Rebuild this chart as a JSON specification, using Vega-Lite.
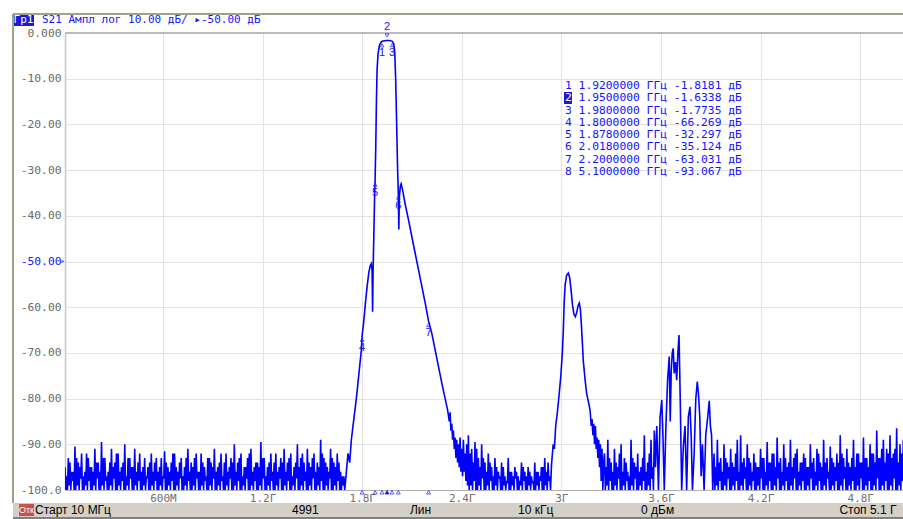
{
"$schema": "https://vega.github.io/schema/vega-lite/v6.json",
"width": 838, "height": 457,
"autosize": {"type": "none"},
"padding": {"left": 65, "top": 33, "right": 0, "bottom": 29},
"background": "white",
"config": {"view": {"stroke": null}},
"datasets": {
"trace": [
{"f":0.010,"v":-95},{"f":0.015,"v":-100},{"f":0.020,"v":-97},{"f":0.025,"v":-100},{"f":0.030,"v":-93},{"f":0.035,"v":-99},{"f":0.040,"v":-94},{"f":0.045,"v":-100},{"f":0.050,"v":-96},{"f":0.055,"v":-98},
{"f":0.060,"v":-96},{"f":0.065,"v":-100},{"f":0.070,"v":-90.5},{"f":0.075,"v":-100},{"f":0.080,"v":-93},{"f":0.085,"v":-99},{"f":0.090,"v":-94},{"f":0.095,"v":-100},{"f":0.100,"v":-95},{"f":0.105,"v":-97.5},
{"f":0.110,"v":-92},{"f":0.115,"v":-100},{"f":0.120,"v":-97},{"f":0.125,"v":-100},{"f":0.130,"v":-96},{"f":0.135,"v":-99},{"f":0.140,"v":-92},{"f":0.145,"v":-100},{"f":0.150,"v":-93},{"f":0.155,"v":-98},
{"f":0.160,"v":-95},{"f":0.165,"v":-100},{"f":0.170,"v":-95},{"f":0.175,"v":-100},{"f":0.180,"v":-96},{"f":0.185,"v":-99},{"f":0.190,"v":-91},{"f":0.195,"v":-100},{"f":0.200,"v":-94},{"f":0.205,"v":-97.5},
{"f":0.210,"v":-94},{"f":0.215,"v":-100},{"f":0.220,"v":-96},{"f":0.225,"v":-100},{"f":0.230,"v":-89.5},{"f":0.235,"v":-99},{"f":0.240,"v":-93},{"f":0.245,"v":-100},{"f":0.250,"v":-93},{"f":0.255,"v":-98},
{"f":0.260,"v":-97},{"f":0.265,"v":-100},{"f":0.270,"v":-96},{"f":0.275,"v":-100},{"f":0.280,"v":-94},{"f":0.285,"v":-99},{"f":0.290,"v":-91},{"f":0.295,"v":-100},{"f":0.300,"v":-95},{"f":0.305,"v":-97.5},
{"f":0.310,"v":-94},{"f":0.315,"v":-100},{"f":0.320,"v":-92},{"f":0.325,"v":-100},{"f":0.330,"v":-92},{"f":0.335,"v":-99},{"f":0.340,"v":-96},{"f":0.345,"v":-100},{"f":0.350,"v":-95},{"f":0.355,"v":-98},
{"f":0.360,"v":-94},{"f":0.365,"v":-100},{"f":0.370,"v":-90},{"f":0.375,"v":-100},{"f":0.380,"v":-97},{"f":0.385,"v":-99},{"f":0.390,"v":-93},{"f":0.395,"v":-100},{"f":0.400,"v":-93},{"f":0.405,"v":-97.5},
{"f":0.410,"v":-95},{"f":0.415,"v":-100},{"f":0.420,"v":-95},{"f":0.425,"v":-100},{"f":0.430,"v":-91},{"f":0.435,"v":-99},{"f":0.440,"v":-96},{"f":0.445,"v":-100},{"f":0.450,"v":-94},{"f":0.455,"v":-98},
{"f":0.460,"v":-92},{"f":0.465,"v":-100},{"f":0.470,"v":-96},{"f":0.475,"v":-100},{"f":0.480,"v":-95},{"f":0.485,"v":-99},{"f":0.490,"v":-93},{"f":0.495,"v":-100},{"f":0.500,"v":-97},{"f":0.505,"v":-97.5},
{"f":0.510,"v":-95},{"f":0.515,"v":-100},{"f":0.520,"v":-94},{"f":0.525,"v":-100},{"f":0.530,"v":-92},{"f":0.535,"v":-99},{"f":0.540,"v":-96},{"f":0.545,"v":-100},{"f":0.550,"v":-94},{"f":0.555,"v":-98},
{"f":0.560,"v":-93},{"f":0.565,"v":-100},{"f":0.570,"v":-96},{"f":0.575,"v":-100},{"f":0.580,"v":-95},{"f":0.585,"v":-99},{"f":0.590,"v":-93},{"f":0.595,"v":-100},{"f":0.600,"v":-97},{"f":0.605,"v":-97.5},
{"f":0.610,"v":-91.5},{"f":0.615,"v":-100},{"f":0.620,"v":-94},{"f":0.625,"v":-100},{"f":0.630,"v":-95},{"f":0.635,"v":-99},{"f":0.640,"v":-96},{"f":0.645,"v":-100},{"f":0.650,"v":-94},{"f":0.655,"v":-98},
{"f":0.660,"v":-92},{"f":0.665,"v":-100},{"f":0.670,"v":-92},{"f":0.675,"v":-100},{"f":0.680,"v":-95},{"f":0.685,"v":-99},{"f":0.690,"v":-96},{"f":0.695,"v":-100},{"f":0.700,"v":-94},{"f":0.705,"v":-97.5},
{"f":0.710,"v":-93},{"f":0.715,"v":-100},{"f":0.720,"v":-97},{"f":0.725,"v":-100},{"f":0.730,"v":-95},{"f":0.735,"v":-99},{"f":0.740,"v":-93},{"f":0.745,"v":-100},{"f":0.750,"v":-91},{"f":0.755,"v":-98},
{"f":0.760,"v":-96},{"f":0.765,"v":-100},{"f":0.770,"v":-94},{"f":0.775,"v":-100},{"f":0.780,"v":-95},{"f":0.785,"v":-99},{"f":0.790,"v":-93},{"f":0.795,"v":-100},{"f":0.800,"v":-92},{"f":0.805,"v":-97.5},
{"f":0.810,"v":-96},{"f":0.815,"v":-100},{"f":0.820,"v":-96},{"f":0.825,"v":-100},{"f":0.830,"v":-92},{"f":0.835,"v":-99},{"f":0.840,"v":-94},{"f":0.845,"v":-100},{"f":0.850,"v":-95},{"f":0.855,"v":-98},
{"f":0.860,"v":-97},{"f":0.865,"v":-100},{"f":0.870,"v":-93},{"f":0.875,"v":-100},{"f":0.880,"v":-93},{"f":0.885,"v":-99},{"f":0.890,"v":-94},{"f":0.895,"v":-100},{"f":0.900,"v":-95},{"f":0.905,"v":-97.5},
{"f":0.910,"v":-91},{"f":0.915,"v":-100},{"f":0.920,"v":-96},{"f":0.925,"v":-100},{"f":0.930,"v":-95},{"f":0.935,"v":-99},{"f":0.940,"v":-94},{"f":0.945,"v":-100},{"f":0.950,"v":-92},{"f":0.955,"v":-98},
{"f":0.960,"v":-97},{"f":0.965,"v":-100},{"f":0.970,"v":-94},{"f":0.975,"v":-100},{"f":0.980,"v":-92},{"f":0.985,"v":-99},{"f":0.990,"v":-96},{"f":0.995,"v":-100},{"f":1.000,"v":-95},{"f":1.005,"v":-97.5},
{"f":1.010,"v":-93},{"f":1.015,"v":-100},{"f":1.020,"v":-94},{"f":1.025,"v":-100},{"f":1.030,"v":-90},{"f":1.035,"v":-99},{"f":1.040,"v":-96},{"f":1.045,"v":-100},{"f":1.050,"v":-94},{"f":1.055,"v":-98},
{"f":1.060,"v":-93},{"f":1.065,"v":-100},{"f":1.070,"v":-92},{"f":1.075,"v":-100},{"f":1.080,"v":-97},{"f":1.085,"v":-99},{"f":1.090,"v":-95},{"f":1.095,"v":-100},{"f":1.100,"v":-95},{"f":1.105,"v":-97.5},
{"f":1.110,"v":-93},{"f":1.115,"v":-100},{"f":1.120,"v":-92},{"f":1.125,"v":-100},{"f":1.130,"v":-91},{"f":1.135,"v":-99},{"f":1.140,"v":-96},{"f":1.145,"v":-100},{"f":1.150,"v":-95},{"f":1.155,"v":-98},
{"f":1.160,"v":-94},{"f":1.165,"v":-100},{"f":1.170,"v":-94},{"f":1.175,"v":-100},{"f":1.180,"v":-95},{"f":1.185,"v":-99},{"f":1.190,"v":-89.5},{"f":1.195,"v":-100},{"f":1.200,"v":-93},{"f":1.205,"v":-97.5},
{"f":1.210,"v":-93},{"f":1.215,"v":-100},{"f":1.220,"v":-97},{"f":1.225,"v":-100},{"f":1.230,"v":-95},{"f":1.235,"v":-99},{"f":1.240,"v":-94},{"f":1.245,"v":-100},{"f":1.250,"v":-92},{"f":1.255,"v":-98},
{"f":1.260,"v":-96},{"f":1.265,"v":-100},{"f":1.270,"v":-94},{"f":1.275,"v":-100},{"f":1.280,"v":-92},{"f":1.285,"v":-99},{"f":1.290,"v":-96},{"f":1.295,"v":-100},{"f":1.300,"v":-95},{"f":1.305,"v":-97.5},
{"f":1.310,"v":-93},{"f":1.315,"v":-100},{"f":1.320,"v":-94},{"f":1.325,"v":-100},{"f":1.330,"v":-91},{"f":1.335,"v":-99},{"f":1.340,"v":-96},{"f":1.345,"v":-100},{"f":1.350,"v":-94},{"f":1.355,"v":-98},
{"f":1.360,"v":-93},{"f":1.365,"v":-100},{"f":1.370,"v":-92},{"f":1.375,"v":-100},{"f":1.380,"v":-97},{"f":1.385,"v":-99},{"f":1.390,"v":-95},{"f":1.395,"v":-100},{"f":1.400,"v":-94},{"f":1.405,"v":-97.5},
{"f":1.410,"v":-90},{"f":1.415,"v":-100},{"f":1.420,"v":-95},{"f":1.425,"v":-100},{"f":1.430,"v":-93},{"f":1.435,"v":-99},{"f":1.440,"v":-92},{"f":1.445,"v":-100},{"f":1.450,"v":-94},{"f":1.455,"v":-98},
{"f":1.460,"v":-96},{"f":1.465,"v":-100},{"f":1.470,"v":-91},{"f":1.475,"v":-100},{"f":1.480,"v":-94},{"f":1.485,"v":-99},{"f":1.490,"v":-95},{"f":1.495,"v":-100},{"f":1.500,"v":-93},{"f":1.505,"v":-97.5},
{"f":1.510,"v":-92},{"f":1.515,"v":-100},{"f":1.520,"v":-96},{"f":1.525,"v":-100},{"f":1.530,"v":-94},{"f":1.535,"v":-99},{"f":1.540,"v":-95},{"f":1.545,"v":-100},{"f":1.550,"v":-89},{"f":1.555,"v":-98},
{"f":1.560,"v":-92},{"f":1.565,"v":-100},{"f":1.570,"v":-93},{"f":1.575,"v":-100},{"f":1.580,"v":-94},{"f":1.585,"v":-99},{"f":1.590,"v":-95},{"f":1.595,"v":-100},{"f":1.600,"v":-96},{"f":1.605,"v":-97.5},
{"f":1.610,"v":-91},{"f":1.615,"v":-100},{"f":1.620,"v":-93},{"f":1.625,"v":-100},{"f":1.630,"v":-94},{"f":1.635,"v":-99},{"f":1.640,"v":-95},{"f":1.645,"v":-100},{"f":1.650,"v":-92},{"f":1.655,"v":-98},
{"f":1.660,"v":-94},{"f":1.665,"v":-100},{"f":1.670,"v":-96},{"f":1.675,"v":-100},{"f":1.680,"v":-97},{"f":1.685,"v":-99},{"f":1.690,"v":-97},{"f":1.695,"v":-100},{"f":1.700,"v":-98},
{"f":1.705,"v":-96},{"f":1.715,"v":-92},{"f":1.725,"v":-94},{"f":1.735,"v":-89},{"f":1.745,"v":-86},{"f":1.755,"v":-83},{"f":1.765,"v":-80},{"f":1.775,"v":-76.5},{"f":1.785,"v":-73},{"f":1.795,"v":-69.5},
{"f":1.800,"v":-66.3},{"f":1.810,"v":-63},{"f":1.820,"v":-59},{"f":1.830,"v":-55.5},{"f":1.840,"v":-52.5},{"f":1.848,"v":-51},{"f":1.855,"v":-50.5},{"f":1.860,"v":-52},{"f":1.863,"v":-61},{"f":1.866,"v":-52},
{"f":1.870,"v":-45},{"f":1.875,"v":-36},{"f":1.878,"v":-32.3},{"f":1.882,"v":-25},{"f":1.886,"v":-15},{"f":1.890,"v":-8},{"f":1.896,"v":-4.5},{"f":1.904,"v":-2.8},{"f":1.912,"v":-2.1},{"f":1.920,"v":-1.82},
{"f":1.935,"v":-1.7},{"f":1.950,"v":-1.63},{"f":1.965,"v":-1.65},{"f":1.980,"v":-1.77},{"f":1.990,"v":-2.3},{"f":1.996,"v":-4},{"f":2.002,"v":-10},{"f":2.008,"v":-20},{"f":2.013,"v":-29},{"f":2.018,"v":-35.1},
{"f":2.021,"v":-43},{"f":2.024,"v":-36},{"f":2.030,"v":-33.5},{"f":2.035,"v":-33},{"f":2.045,"v":-34.6},{"f":2.060,"v":-37.6},{"f":2.080,"v":-41.0},{"f":2.100,"v":-44.7},{"f":2.120,"v":-48.3},{"f":2.140,"v":-51.9},
{"f":2.160,"v":-55.5},{"f":2.180,"v":-59.1},{"f":2.200,"v":-63.0},{"f":2.220,"v":-65.8},{"f":2.240,"v":-69.4},{"f":2.260,"v":-73},{"f":2.280,"v":-76.6},{"f":2.300,"v":-80},{"f":2.315,"v":-82.5},{"f":2.325,"v":-85},
{"f":2.330,"v":-83},{"f":2.335,"v":-87},{"f":2.340,"v":-85.5},{"f":2.345,"v":-89},{"f":2.350,"v":-87},{"f":2.355,"v":-91},{"f":2.360,"v":-88.5},{"f":2.365,"v":-93},{"f":2.370,"v":-89},{"f":2.375,"v":-94},
{"f":2.380,"v":-90},{"f":2.385,"v":-95},{"f":2.390,"v":-88.5},{"f":2.395,"v":-96},{"f":2.400,"v":-91},{"f":2.405,"v":-97},{"f":2.410,"v":-89},{"f":2.415,"v":-96},{"f":2.420,"v":-92},{"f":2.425,"v":-98},
{"f":2.430,"v":-90},{"f":2.435,"v":-99},
{"f":2.440,"v":-88},{"f":2.445,"v":-100},{"f":2.450,"v":-92},{"f":2.455,"v":-99},{"f":2.460,"v":-91},{"f":2.465,"v":-100},{"f":2.470,"v":-94},{"f":2.475,"v":-98},{"f":2.480,"v":-89.5},{"f":2.485,"v":-100},
{"f":2.490,"v":-91},{"f":2.495,"v":-100},{"f":2.500,"v":-93},{"f":2.505,"v":-99},{"f":2.510,"v":-95},{"f":2.515,"v":-100},{"f":2.520,"v":-90},{"f":2.525,"v":-97.5},{"f":2.530,"v":-93},{"f":2.535,"v":-100},
{"f":2.540,"v":-94},{"f":2.545,"v":-100},{"f":2.550,"v":-96},{"f":2.555,"v":-99},{"f":2.560,"v":-92},{"f":2.565,"v":-100},{"f":2.570,"v":-94},{"f":2.575,"v":-98},{"f":2.580,"v":-95},{"f":2.585,"v":-100},
{"f":2.590,"v":-97},{"f":2.595,"v":-100},{"f":2.600,"v":-93},{"f":2.605,"v":-99},{"f":2.610,"v":-95},{"f":2.615,"v":-100},{"f":2.620,"v":-96},{"f":2.625,"v":-97.5},{"f":2.630,"v":-97},{"f":2.635,"v":-100},
{"f":2.640,"v":-94},{"f":2.645,"v":-100},{"f":2.650,"v":-95},{"f":2.655,"v":-99},{"f":2.660,"v":-97},{"f":2.665,"v":-100},{"f":2.670,"v":-98},{"f":2.675,"v":-98.5},{"f":2.680,"v":-93},{"f":2.685,"v":-100},
{"f":2.690,"v":-96},{"f":2.695,"v":-100},{"f":2.700,"v":-96},{"f":2.705,"v":-99},{"f":2.710,"v":-97},{"f":2.715,"v":-100},{"f":2.720,"v":-95},{"f":2.725,"v":-97.5},{"f":2.730,"v":-96},{"f":2.735,"v":-100},
{"f":2.740,"v":-97},{"f":2.745,"v":-100},{"f":2.750,"v":-98},{"f":2.755,"v":-99},{"f":2.760,"v":-94},{"f":2.765,"v":-100},{"f":2.770,"v":-95},{"f":2.775,"v":-98},{"f":2.780,"v":-96},{"f":2.785,"v":-100},
{"f":2.790,"v":-97},{"f":2.795,"v":-100},{"f":2.800,"v":-95},{"f":2.805,"v":-99},{"f":2.810,"v":-96},{"f":2.815,"v":-100},{"f":2.820,"v":-97},{"f":2.825,"v":-98.5},{"f":2.830,"v":-98},{"f":2.835,"v":-100},
{"f":2.840,"v":-94},{"f":2.845,"v":-100},{"f":2.850,"v":-96},{"f":2.855,"v":-99},{"f":2.860,"v":-96},{"f":2.865,"v":-100},{"f":2.870,"v":-97},{"f":2.875,"v":-98},{"f":2.880,"v":-95},{"f":2.885,"v":-100},
{"f":2.890,"v":-95},{"f":2.895,"v":-100},{"f":2.900,"v":-93},{"f":2.905,"v":-99},{"f":2.910,"v":-96},{"f":2.915,"v":-100},{"f":2.920,"v":-94},{"f":2.925,"v":-98},{"f":2.930,"v":-97},{"f":2.935,"v":-100},
{"f":2.940,"v":-95},{"f":2.944,"v":-93},{"f":2.951,"v":-90},{"f":2.958,"v":-91},{"f":2.966,"v":-86},{"f":2.976,"v":-83},{"f":2.987,"v":-79},{"f":2.997,"v":-75},{"f":3.006,"v":-70},{"f":3.012,"v":-65},
{"f":3.017,"v":-59},{"f":3.023,"v":-55},{"f":3.032,"v":-53},{"f":3.042,"v":-52.5},{"f":3.050,"v":-53.5},{"f":3.058,"v":-56},{"f":3.067,"v":-59.5},{"f":3.076,"v":-61.5},{"f":3.084,"v":-62.1},{"f":3.092,"v":-61.3},
{"f":3.100,"v":-59.8},{"f":3.108,"v":-59.1},{"f":3.115,"v":-60.5},{"f":3.121,"v":-64},{"f":3.127,"v":-68},{"f":3.132,"v":-71.6},{"f":3.142,"v":-75.5},{"f":3.152,"v":-78.8},{"f":3.162,"v":-80.5},{"f":3.173,"v":-82.5},
{"f":3.180,"v":-86},{"f":3.185,"v":-84.5},{"f":3.190,"v":-88},{"f":3.195,"v":-85.5},{"f":3.200,"v":-90},{"f":3.205,"v":-86},{"f":3.210,"v":-91},{"f":3.215,"v":-88.5},{"f":3.220,"v":-93},{"f":3.225,"v":-89},
{"f":3.230,"v":-95},{"f":3.235,"v":-90},{"f":3.240,"v":-98},{"f":3.245,"v":-91},{"f":3.250,"v":-100},{"f":3.255,"v":-94},
{"f":3.260,"v":-92},{"f":3.265,"v":-100},{"f":3.270,"v":-95},{"f":3.275,"v":-99},{"f":3.280,"v":-89},{"f":3.285,"v":-100},{"f":3.290,"v":-93},{"f":3.295,"v":-98},{"f":3.300,"v":-94},{"f":3.305,"v":-100},
{"f":3.310,"v":-96},{"f":3.315,"v":-100},{"f":3.320,"v":-91},{"f":3.325,"v":-99},{"f":3.330,"v":-94},{"f":3.335,"v":-100},{"f":3.340,"v":-95},{"f":3.345,"v":-97.5},{"f":3.350,"v":-92},{"f":3.355,"v":-100},
{"f":3.360,"v":-90},{"f":3.365,"v":-100},{"f":3.370,"v":-96},{"f":3.375,"v":-99},{"f":3.380,"v":-93},{"f":3.385,"v":-100},{"f":3.390,"v":-94},{"f":3.395,"v":-98},{"f":3.400,"v":-96},{"f":3.405,"v":-100},
{"f":3.410,"v":-97},{"f":3.415,"v":-100},{"f":3.420,"v":-89},{"f":3.425,"v":-99},{"f":3.430,"v":-93},{"f":3.435,"v":-100},{"f":3.440,"v":-94},{"f":3.445,"v":-97.5},{"f":3.450,"v":-95},{"f":3.455,"v":-100},
{"f":3.460,"v":-92},{"f":3.465,"v":-100},{"f":3.470,"v":-96},{"f":3.475,"v":-99},{"f":3.480,"v":-95},{"f":3.485,"v":-100},{"f":3.490,"v":-93},{"f":3.495,"v":-98},{"f":3.500,"v":-88},{"f":3.505,"v":-100},
{"f":3.510,"v":-96},{"f":3.515,"v":-100},{"f":3.520,"v":-94},{"f":3.525,"v":-99},{"f":3.530,"v":-92},{"f":3.535,"v":-100},{"f":3.540,"v":-89},{"f":3.545,"v":-97.5},{"f":3.550,"v":-95},{"f":3.555,"v":-100},
{"f":3.560,"v":-87},{"f":3.567,"v":-95},{"f":3.575,"v":-86},{"f":3.585,"v":-100},{"f":3.595,"v":-84},{"f":3.605,"v":-80.3},{"f":3.612,"v":-88},{"f":3.620,"v":-100},{"f":3.630,"v":-86},{"f":3.640,"v":-76},
{"f":3.650,"v":-70.8},{"f":3.656,"v":-85},{"f":3.662,"v":-74},{"f":3.668,"v":-70},{"f":3.674,"v":-69},{"f":3.680,"v":-74.5},{"f":3.688,"v":-72},{"f":3.695,"v":-76},{"f":3.702,"v":-70},{"f":3.709,"v":-66.1},
{"f":3.716,"v":-79.6},{"f":3.725,"v":-100},{"f":3.735,"v":-90.5},{"f":3.745,"v":-86},{"f":3.755,"v":-100},{"f":3.765,"v":-84},{"f":3.775,"v":-81.8},{"f":3.782,"v":-88},{"f":3.790,"v":-100},{"f":3.800,"v":-92},
{"f":3.810,"v":-80},{"f":3.819,"v":-76.3},{"f":3.826,"v":-79},{"f":3.834,"v":-84},{"f":3.842,"v":-97},{"f":3.850,"v":-90},{"f":3.860,"v":-100},{"f":3.870,"v":-88},{"f":3.882,"v":-84},{"f":3.891,"v":-80.5},
{"f":3.898,"v":-86},{"f":3.905,"v":-88},{"f":3.912,"v":-100},
{"f":3.920,"v":-92},{"f":3.925,"v":-100},{"f":3.930,"v":-95},{"f":3.935,"v":-99},{"f":3.940,"v":-89},{"f":3.945,"v":-100},{"f":3.950,"v":-94},{"f":3.955,"v":-98},{"f":3.960,"v":-93},{"f":3.965,"v":-100},
{"f":3.970,"v":-96},{"f":3.975,"v":-100},{"f":3.980,"v":-90},{"f":3.985,"v":-99},{"f":3.990,"v":-93},{"f":3.995,"v":-100},{"f":4.000,"v":-94},{"f":4.005,"v":-97.5},{"f":4.010,"v":-95},{"f":4.015,"v":-100},
{"f":4.020,"v":-91},{"f":4.025,"v":-100},{"f":4.030,"v":-94},{"f":4.035,"v":-99},{"f":4.040,"v":-95},{"f":4.045,"v":-100},{"f":4.050,"v":-92},{"f":4.055,"v":-98},{"f":4.060,"v":-89},{"f":4.065,"v":-100},
{"f":4.070,"v":-96},{"f":4.075,"v":-100},{"f":4.080,"v":-88},{"f":4.085,"v":-99},{"f":4.090,"v":-94},{"f":4.095,"v":-100},{"f":4.100,"v":-93},{"f":4.105,"v":-97.5},{"f":4.110,"v":-95},{"f":4.115,"v":-100},
{"f":4.120,"v":-90},{"f":4.125,"v":-100},{"f":4.130,"v":-93},{"f":4.135,"v":-99},{"f":4.140,"v":-94},{"f":4.145,"v":-100},{"f":4.150,"v":-96},{"f":4.155,"v":-98},{"f":4.160,"v":-92},{"f":4.165,"v":-100},
{"f":4.170,"v":-94},{"f":4.175,"v":-100},{"f":4.180,"v":-95},{"f":4.185,"v":-99},{"f":4.190,"v":-95},{"f":4.195,"v":-100},{"f":4.200,"v":-91},{"f":4.205,"v":-97.5},{"f":4.210,"v":-93},{"f":4.215,"v":-100},
{"f":4.220,"v":-93},{"f":4.225,"v":-100},{"f":4.230,"v":-96},{"f":4.235,"v":-99},{"f":4.240,"v":-89.5},{"f":4.245,"v":-100},{"f":4.250,"v":-94},{"f":4.255,"v":-98},{"f":4.260,"v":-94},{"f":4.265,"v":-100},
{"f":4.270,"v":-92},{"f":4.275,"v":-100},{"f":4.280,"v":-92},{"f":4.285,"v":-99},{"f":4.290,"v":-95},{"f":4.295,"v":-100},{"f":4.300,"v":-88.5},{"f":4.305,"v":-97.5},{"f":4.310,"v":-94},{"f":4.315,"v":-100},
{"f":4.320,"v":-93},{"f":4.325,"v":-100},{"f":4.330,"v":-96},{"f":4.335,"v":-99},{"f":4.340,"v":-90},{"f":4.345,"v":-100},{"f":4.350,"v":-93},{"f":4.355,"v":-98},{"f":4.360,"v":-95},{"f":4.365,"v":-100},
{"f":4.370,"v":-94},{"f":4.375,"v":-100},{"f":4.380,"v":-89},{"f":4.385,"v":-99},{"f":4.390,"v":-95},{"f":4.395,"v":-100},{"f":4.400,"v":-93},{"f":4.405,"v":-97.5},{"f":4.410,"v":-92},{"f":4.415,"v":-100},
{"f":4.420,"v":-91},{"f":4.425,"v":-100},{"f":4.430,"v":-96},{"f":4.435,"v":-99},{"f":4.440,"v":-94},{"f":4.445,"v":-100},{"f":4.450,"v":-94},{"f":4.455,"v":-98},{"f":4.460,"v":-92},{"f":4.465,"v":-100},
{"f":4.470,"v":-93},{"f":4.475,"v":-100},{"f":4.480,"v":-95},{"f":4.485,"v":-99},{"f":4.490,"v":-95},{"f":4.495,"v":-100},{"f":4.500,"v":-90},{"f":4.505,"v":-97.5},{"f":4.510,"v":-94},{"f":4.515,"v":-100},
{"f":4.520,"v":-93},{"f":4.525,"v":-100},{"f":4.530,"v":-96},{"f":4.535,"v":-99},{"f":4.540,"v":-91},{"f":4.545,"v":-100},{"f":4.550,"v":-92},{"f":4.555,"v":-98},{"f":4.560,"v":-94},{"f":4.565,"v":-100},
{"f":4.570,"v":-95},{"f":4.575,"v":-100},{"f":4.580,"v":-89},{"f":4.585,"v":-99},{"f":4.590,"v":-94},{"f":4.595,"v":-100},{"f":4.600,"v":-93},{"f":4.605,"v":-97.5},{"f":4.610,"v":-96},{"f":4.615,"v":-100},
{"f":4.620,"v":-90.5},{"f":4.625,"v":-100},{"f":4.630,"v":-93},{"f":4.635,"v":-99},{"f":4.640,"v":-94},{"f":4.645,"v":-100},{"f":4.650,"v":-95},{"f":4.655,"v":-98},{"f":4.660,"v":-92},{"f":4.665,"v":-100},
{"f":4.670,"v":-94},{"f":4.675,"v":-100},{"f":4.680,"v":-88},{"f":4.685,"v":-99},{"f":4.690,"v":-92},{"f":4.695,"v":-100},{"f":4.700,"v":-93},{"f":4.705,"v":-97.5},{"f":4.710,"v":-95},{"f":4.715,"v":-100},
{"f":4.720,"v":-91},{"f":4.725,"v":-100},{"f":4.730,"v":-94},{"f":4.735,"v":-99},{"f":4.740,"v":-95},{"f":4.745,"v":-100},{"f":4.750,"v":-93},{"f":4.755,"v":-98},{"f":4.760,"v":-89},{"f":4.765,"v":-100},
{"f":4.770,"v":-95},{"f":4.775,"v":-100},{"f":4.780,"v":-92},{"f":4.785,"v":-99},{"f":4.790,"v":-92},{"f":4.795,"v":-100},{"f":4.800,"v":-94},{"f":4.805,"v":-97.5},{"f":4.810,"v":-94},{"f":4.815,"v":-100},
{"f":4.820,"v":-88.5},{"f":4.825,"v":-100},{"f":4.830,"v":-93},{"f":4.835,"v":-99},{"f":4.840,"v":-93},{"f":4.845,"v":-100},{"f":4.850,"v":-95},{"f":4.855,"v":-98},{"f":4.860,"v":-90},{"f":4.865,"v":-100},
{"f":4.870,"v":-92},{"f":4.875,"v":-100},{"f":4.880,"v":-92},{"f":4.885,"v":-99},{"f":4.890,"v":-94},{"f":4.895,"v":-100},{"f":4.900,"v":-87},{"f":4.905,"v":-97.5},{"f":4.910,"v":-93},{"f":4.915,"v":-100},
{"f":4.920,"v":-93},{"f":4.925,"v":-100},{"f":4.930,"v":-91},{"f":4.935,"v":-99},{"f":4.940,"v":-89},{"f":4.945,"v":-100},{"f":4.950,"v":-94},{"f":4.955,"v":-98},{"f":4.960,"v":-91},{"f":4.965,"v":-100},
{"f":4.970,"v":-92},{"f":4.975,"v":-100},{"f":4.980,"v":-88},{"f":4.985,"v":-99},{"f":4.990,"v":-93},{"f":4.995,"v":-100},{"f":5.000,"v":-92},{"f":5.005,"v":-97.5},{"f":5.010,"v":-91},{"f":5.015,"v":-100},
{"f":5.020,"v":-86.5},{"f":5.025,"v":-100},{"f":5.030,"v":-94},{"f":5.035,"v":-99},{"f":5.040,"v":-90},{"f":5.045,"v":-100},{"f":5.050,"v":-92},{"f":5.055,"v":-98},{"f":5.060,"v":-89},{"f":5.065,"v":-100},{"f":5.070,"v":-93}
],
"markers": [
{"m":"1","f":1.92,"v":-1.8181},{"m":"2","f":1.95,"v":-1.6338},{"m":"3","f":1.98,"v":-1.7735},{"m":"4","f":1.8,"v":-66.269},
{"m":"5","f":1.878,"v":-32.297},{"m":"6","f":2.018,"v":-35.124},{"m":"7","f":2.2,"v":-63.031}
],
"table": [
{"t":"1 1.9200000 ГГц -1.8181 дБ","f":3.0221,"v":-11.60},
{"t":"1.9500000 ГГц -1.6338 дБ","f":3.1040,"v":-14.29},
{"t":"3 1.9800000 ГГц -1.7735 дБ","f":3.0221,"v":-16.98},
{"t":"4 1.8000000 ГГц -66.269 дБ","f":3.0221,"v":-19.67},
{"t":"5 1.8780000 ГГц -32.297 дБ","f":3.0221,"v":-22.36},
{"t":"6 2.0180000 ГГц -35.124 дБ","f":3.0221,"v":-25.05},
{"t":"7 2.2000000 ГГц -63.031 дБ","f":3.0221,"v":-27.75},
{"t":"8 5.1000000 ГГц -93.067 дБ","f":3.0221,"v":-30.44}
],
"status": [
{"t":"Старт 10 МГц","f":-0.1707,"v":-104.38},
{"t":"4991","f":1.3775,"v":-104.38},
{"t":"Лин","f":2.0883,"v":-104.38},
{"t":"10 кГц","f":2.7389,"v":-104.38},
{"t":"0 дБм","f":3.4799,"v":-104.38},
{"t":"Стоп 5.1 Г","f":4.6750,"v":-104.38}
]
},
"layer": [
{
"data": {"values": [{}]},
"mark": {"type": "rect", "color": "#d4d0c8"},
"encoding": {"x": {"datum": -0.3033}, "x2": {"datum": 5.0582}, "y": {"datum": -102.84}, "y2": {"datum": -105.91}}
},
{
"data": {"name": "trace"},
"mark": {"type": "line", "color": "#0000ff", "strokeWidth": 1.6, "clip": true},
"encoding": {
"x": {"field": "f", "type": "quantitative",
"scale": {"domain": [0.01, 5.0582], "nice": false, "zero": false},
"axis": {"title": null, "values": [0.6, 1.2, 1.8, 2.4, 3, 3.6, 4.2, 4.8],
"labelExpr": "datum.value == 0.6 ? '600М' : datum.value + 'Г'",
"grid": true, "gridColor": "#e2e2e2", "gridWidth": 1, "ticks": false, "tickSize": 0,
"labelPadding": 2, "labelFont": "DejaVu Sans Mono", "labelFontSize": 11, "labelColor": "#707070",
"labelOverlap": false, "domain": true, "domainColor": "#b0b0b0", "domainWidth": 1}},
"y": {"field": "v", "type": "quantitative",
"scale": {"domain": [-100, 0], "nice": false, "zero": false},
"axis": {"title": null, "values": [0, -10, -20, -30, -40, -50, -60, -70, -80, -90, -100],
"labelExpr": "datum.value == 0 ? '0.000' : (datum.value == -100 ? '-100.0' : '-' + format(-datum.value, '.2f'))",
"grid": true, "gridColor": "#e2e2e2", "gridWidth": 1, "ticks": false, "tickSize": 0,
"labelPadding": 4, "labelFont": "DejaVu Sans Mono", "labelFontSize": 11.3,
"labelColor": {"condition": {"test": "datum.value == -50", "value": "#1414ff"}, "value": "#6b6b6b"},
"labelOverlap": false, "labelFlush": false, "domain": true, "domainColor": "#c8c8c8", "domainWidth": 1.5}}
}
},
{
"data": {"values": [{}]},
"mark": {"type": "rule", "color": "#a8a8a8", "strokeWidth": 1.5},
"encoding": {"y": {"datum": 0}}
},
{
"data": {"name": "markers"},
"transform": [{"filter": "datum.m != '2'"}],
"mark": {"type": "point", "shape": "triangle-up", "filled": false, "color": "#1414ff", "size": 14, "strokeWidth": 1, "yOffset": 4},
"encoding": {"x": {"field": "f", "type": "quantitative"}, "y": {"field": "v", "type": "quantitative"}}
},
{
"data": {"name": "markers"},
"transform": [{"filter": "datum.m != '2'"}],
"mark": {"type": "text", "color": "#1414ff", "font": "Liberation Sans", "fontSize": 11, "yOffset": 12, "baseline": "middle"},
"encoding": {"x": {"field": "f", "type": "quantitative"}, "y": {"field": "v", "type": "quantitative"}, "text": {"field": "m"}}
},
{
"data": {"name": "markers"},
"transform": [{"filter": "datum.m == '2'"}],
"mark": {"type": "point", "shape": "triangle-down", "filled": false, "color": "#1414ff", "size": 14, "strokeWidth": 1, "yOffset": -5},
"encoding": {"x": {"field": "f", "type": "quantitative"}, "y": {"field": "v", "type": "quantitative"}}
},
{
"data": {"name": "markers"},
"transform": [{"filter": "datum.m == '2'"}],
"mark": {"type": "text", "color": "#1414ff", "font": "Liberation Sans", "fontSize": 11, "yOffset": -13, "baseline": "middle"},
"encoding": {"x": {"field": "f", "type": "quantitative"}, "y": {"field": "v", "type": "quantitative"}, "text": {"field": "m"}}
},
{
"data": {"name": "markers"},
"mark": {"type": "point", "shape": "triangle-up", "filled": false, "color": "#1414ff", "size": 16, "strokeWidth": 1},
"encoding": {"x": {"field": "f", "type": "quantitative"}, "y": {"datum": -100.5}}
},
{
"data": {"name": "markers"},
"transform": [{"filter": "datum.m == '2'"}],
"mark": {"type": "point", "shape": "triangle-up", "filled": true, "color": "#1414ff", "size": 16, "opacity": 1},
"encoding": {"x": {"field": "f", "type": "quantitative"}, "y": {"datum": -100.5}}
},
{
"data": {"name": "table"},
"mark": {"type": "text", "align": "left", "baseline": "middle", "font": "DejaVu Sans Mono", "fontSize": 11.3, "color": "#1414ff"},
"encoding": {"x": {"field": "f", "type": "quantitative"}, "y": {"field": "v", "type": "quantitative"}, "text": {"field": "t"}}
},
{
"data": {"values": [{}]},
"mark": {"type": "rect", "color": "#1a1ad0"},
"encoding": {"x": {"datum": 3.016}, "x2": {"datum": 3.064}, "y": {"datum": -12.91}, "y2": {"datum": -15.54}}
},
{
"data": {"values": [{}]},
"mark": {"type": "text", "align": "left", "baseline": "middle", "font": "DejaVu Sans Mono", "fontSize": 11.3, "color": "white", "text": "2"},
"encoding": {"x": {"datum": 3.0221}, "y": {"datum": -14.29}}
},
{
"data": {"values": [{}]},
"mark": {"type": "point", "shape": "triangle-right", "filled": true, "color": "#1414ff", "size": 14, "xOffset": -2},
"encoding": {"x": {"datum": 0.01}, "y": {"datum": -50}}
},
{
"data": {"values": [{}]},
"mark": {"type": "rect", "color": "#1a1ad0"},
"encoding": {"x": {"datum": -0.3033}, "x2": {"datum": -0.1767}, "y": {"datum": 4.158}, "y2": {"datum": 1.532}}
},
{
"data": {"values": [{}]},
"mark": {"type": "text", "align": "center", "baseline": "middle", "font": "DejaVu Sans Mono", "fontSize": 11, "color": "white", "text": "Гр1"},
"encoding": {"x": {"datum": -0.24}, "y": {"datum": 2.845}}
},
{
"data": {"values": [{}]},
"mark": {"type": "text", "align": "left", "baseline": "middle", "font": "DejaVu Sans Mono", "fontSize": 11, "color": "#1414ff", "text": "S21 Ампл лог 10.00 дБ/ ▸-50.00 дБ"},
"encoding": {"x": {"datum": -0.1286}, "y": {"datum": 2.845}}
},
{
"data": {"values": [{}]},
"mark": {"type": "rule", "color": "#a49f93", "strokeWidth": 2},
"encoding": {"x": {"datum": -0.3033}, "x2": {"datum": 5.0582}, "y": {"datum": 4.158}}
},
{
"data": {"values": [{}]},
"mark": {"type": "rule", "color": "#a49f93", "strokeWidth": 2},
"encoding": {"x": {"datum": -0.3033}, "y": {"datum": 4.158}, "y2": {"datum": -102.84}}
},
{
"data": {"values": [{}]},
"mark": {"type": "rule", "color": "#808080", "strokeWidth": 2},
"encoding": {"x": {"datum": -0.3033}, "x2": {"datum": 5.0582}, "y": {"datum": -106.1}}
},
{
"data": {"values": [{}]},
"mark": {"type": "rect", "color": "#c85050"},
"encoding": {"x": {"datum": -0.2671}, "x2": {"datum": -0.1768}, "y": {"datum": -103.05}, "y2": {"datum": -105.7}}
},
{
"data": {"values": [{}]},
"mark": {"type": "text", "align": "center", "baseline": "middle", "font": "Liberation Sans", "fontSize": 9, "color": "white", "text": "Отк"},
"encoding": {"x": {"datum": -0.2220}, "y": {"datum": -104.38}}
},
{
"data": {"name": "status"},
"mark": {"type": "text", "align": "left", "baseline": "middle", "font": "Liberation Sans Narrow, Liberation Sans", "fontSize": 12, "color": "#000000"},
"encoding": {"x": {"field": "f", "type": "quantitative"}, "y": {"field": "v", "type": "quantitative"}, "text": {"field": "t"}}
}
]
}
